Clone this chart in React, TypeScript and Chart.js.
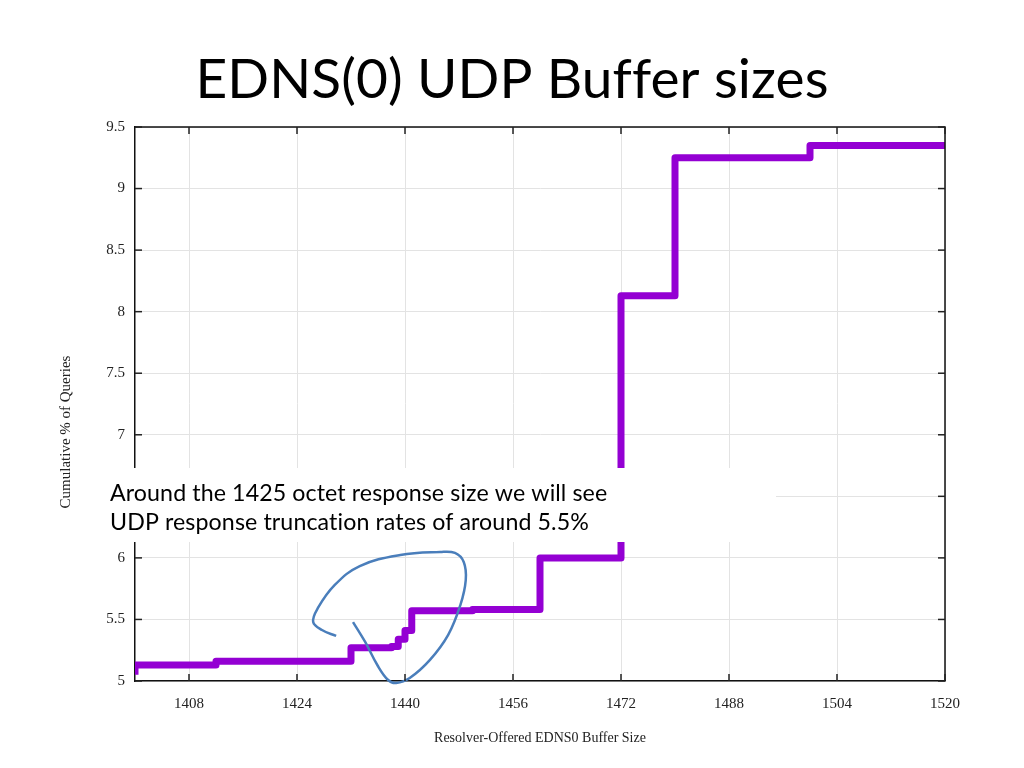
import React, { useEffect, useRef } from 'react';
import { Chart, registerables } from 'chart.js';

Chart.register(...registerables);

// Cumulative distribution (step function) of resolver-offered buffer sizes
const bufferSizes = [1400, 1400, 1412, 1432, 1438, 1439, 1440, 1441, 1450, 1460, 1472, 1480, 1500, 1520];
const cumulativePct = [5.05, 5.13, 5.16, 5.27, 5.28, 5.34, 5.41, 5.57, 5.58, 6.0, 8.13, 9.25, 9.35, 9.35];

// Axis ticks
const xTickValues = [1408, 1424, 1440, 1456, 1472, 1488, 1504, 1520];
const yTickValues = [5, 5.5, 6, 6.5, 7, 7.5, 8, 8.5, 9, 9.5];

// Hand-drawn highlight loop (in data units)
const loopX = [1429.8, 1427.7, 1426.4, 1427.1, 1429.6, 1433.3, 1439.3, 1445.2, 1447.4, 1448.7, 1449.0, 1448.2, 1446.4, 1443.7, 1440.7, 1438.7, 1437.5, 1435.9, 1434.1, 1432.3];
const loopY = [5.366, 5.414, 5.479, 5.593, 5.78, 5.934, 6.024, 6.048, 6.04, 5.967, 5.82, 5.617, 5.374, 5.171, 5.024, 4.984, 5.008, 5.13, 5.317, 5.479];

const titleText = 'EDNS(0) UDP Buffer sizes';
const noteLines = [
  'Around the 1425 octet response size we will see',
  'UDP response truncation rates of around 5.5%',
];
const xTitle = 'Resolver-Offered EDNS0 Buffer Size';
const yTitle = 'Cumulative % of Queries';

const decorPlugin = {
  id: 'decor',
  afterDraw(chart: any) {
    const { ctx, chartArea: a, scales } = chart;
    const xs = scales.x;
    const ys = scales.y;
    ctx.save();
    const seg = (x1: number, y1: number, x2: number, y2: number) => {
      ctx.beginPath();
      ctx.moveTo(x1, y1);
      ctx.lineTo(x2, y2);
      ctx.stroke();
    };
    // top and right frame
    ctx.strokeStyle = '#111';
    ctx.lineWidth = 1.5;
    ctx.beginPath();
    ctx.moveTo(a.left, a.top);
    ctx.lineTo(a.right, a.top);
    ctx.lineTo(a.right, a.bottom);
    ctx.stroke();
    // inward ticks
    ctx.strokeStyle = '#222';
    ctx.lineWidth = 1.5;
    xs.ticks.forEach((t: any) => {
      const px = xs.getPixelForValue(t.value);
      seg(px, a.bottom, px, a.bottom - 7);
      seg(px, a.top, px, a.top + 7);
    });
    ys.ticks.forEach((t: any) => {
      const py = ys.getPixelForValue(t.value);
      seg(a.left, py, a.left + 7, py);
      seg(a.right, py, a.right - 7, py);
    });
    // white note box
    ctx.fillStyle = '#ffffff';
    ctx.fillRect(100, 468, 676, 74);
    ctx.fillStyle = '#000';
    ctx.font = '23.2px Lato';
    (ctx as any).letterSpacing = '0.1px';
    ctx.textAlign = 'left';
    ctx.textBaseline = 'alphabetic';
    ctx.fillText(noteLines[0], 110, 501);
    ctx.fillText(noteLines[1], 110, 530);
    // title
    ctx.font = '55px Lato';
    (ctx as any).letterSpacing = '0.1px';
    ctx.textAlign = 'center';
    ctx.fillText(titleText, 512, 98);
    (ctx as any).letterSpacing = '0px';
    // y axis title
    ctx.translate(66, 432);
    ctx.rotate(-Math.PI / 2);
    ctx.font = '15px "Liberation Serif"';
    ctx.textBaseline = 'middle';
    ctx.fillStyle = '#222';
    ctx.fillText(yTitle, 0, 0);
    ctx.restore();
  },
};

export default function App() {
  const ref = useRef<HTMLCanvasElement | null>(null);
  useEffect(() => {
    if (!ref.current) return;
    const chart = new Chart(ref.current, {
      type: 'line',
      data: {
        datasets: [
          {
            label: 'loop',
            data: loopX.map((x, i) => ({ x, y: loopY[i] })),
            borderColor: '#4a7ebb',
            borderWidth: 2.5,
            pointRadius: 0,
            tension: 0.4,
            fill: false,
            clip: false as any,
            order: 0,
          },
          {
            label: 'cdf',
            data: bufferSizes.map((x, i) => ({ x, y: cumulativePct[i] })),
            borderColor: '#9400d3',
            borderWidth: 7,
            borderJoinStyle: 'round',
            pointRadius: 0,
            stepped: 'before',
            fill: false,
            order: 1,
          },
        ],
      },
      options: {
        responsive: false,
        animation: false,
        events: [],
        layout: { padding: { top: 127, right: 79, left: 0, bottom: 0 } },
        plugins: {
          legend: { display: false },
          tooltip: { enabled: false },
          title: { display: false },
        },
        scales: {
          x: {
            type: 'linear',
            min: 1400,
            max: 1520,
            afterBuildTicks: (s: any) => {
              s.ticks = xTickValues.map((v) => ({ value: v }));
            },
            afterFit: (s: any) => {
              s.height = 87;
            },
            ticks: {
              padding: 14,
              color: '#222',
              font: { family: '"Liberation Serif"', size: 15 },
              callback: (v: any) => String(v),
            },
            grid: { color: '#e3e3e3', lineWidth: 1, drawTicks: false },
            border: { display: true, color: '#111', width: 1.5 },
            title: {
              display: true,
              text: xTitle,
              color: '#222',
              font: { family: '"Liberation Serif"', size: 14 },
              padding: { top: 0, bottom: 21 },
            },
          },
          y: {
            type: 'linear',
            min: 5,
            max: 9.5,
            afterBuildTicks: (s: any) => {
              s.ticks = yTickValues.map((v) => ({ value: v }));
            },
            afterFit: (s: any) => {
              s.width = 135;
            },
            ticks: {
              padding: 10,
              color: '#222',
              font: { family: '"Liberation Serif"', size: 15 },
              callback: (v: any) => String(v),
            },
            grid: { color: '#e3e3e3', lineWidth: 1, drawTicks: false },
            border: { display: true, color: '#111', width: 1.5 },
          },
        },
      },
      plugins: [decorPlugin],
    });
    return () => chart.destroy();
  }, []);
  return (
    <div style={{ position: 'fixed', left: 0, top: 0, width: 1024, height: 768, background: '#fff' }}>
      <canvas ref={ref} width={1024} height={768} style={{ display: 'block' }} />
    </div>
  );
}
